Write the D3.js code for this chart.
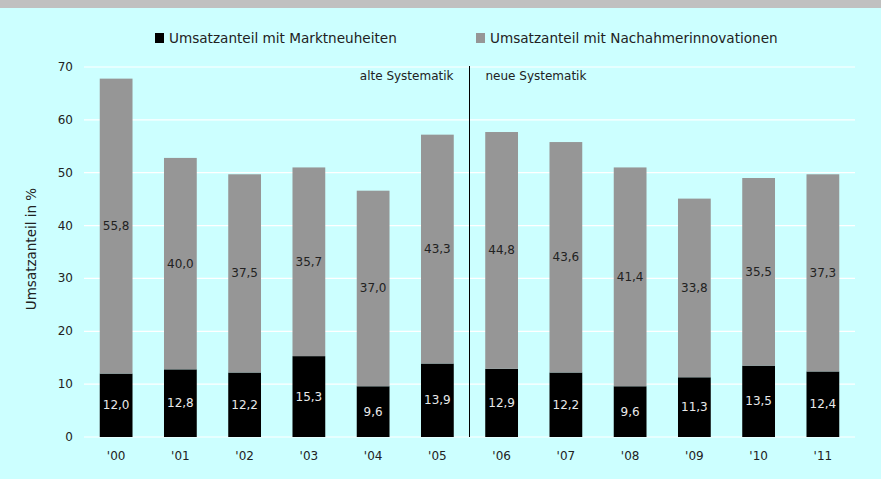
<!DOCTYPE html>
<html>
<head>
<meta charset="utf-8">
<script src="https://cdn.jsdelivr.net/npm/d3@7"></script>
<style>
  body { margin: 0; background: #ccffff; }
  svg { display: block; }
</style>
</head>
<body>
<script>
const width = 881;
const height = 479;

const years = ["'00", "'01", "'02", "'03", "'04", "'05", "'06", "'07", "'08", "'09", "'10", "'11"];
const marktneuheiten = [12.0, 12.8, 12.2, 15.3, 9.6, 13.9, 12.9, 12.2, 9.6, 11.3, 13.5, 12.4];
const nachahmer = [55.8, 40.0, 37.5, 35.7, 37.0, 43.3, 44.8, 43.6, 41.4, 33.8, 35.5, 37.3];
const yTicks = [0, 10, 20, 30, 40, 50, 60, 70];
const seriesNames = ['Umsatzanteil mit Marktneuheiten', 'Umsatzanteil mit Nachahmerinnovationen'];
const colors = ['#000000', '#969696'];

const margin = { left: 84, right: 26, top: 67, bottom: 42 };
const font = 'DejaVu Sans';

const svg = d3.select('body').append('svg').attr('width', width).attr('height', height);

svg.append('rect').attr('x', 0).attr('y', 0).attr('width', width).attr('height', height).style('fill', '#ccffff');
svg.append('rect').attr('x', 0).attr('y', 0).attr('width', width).attr('height', 8).style('fill', '#c0c0c0');

const x = d3.scaleBand().domain(years).range([margin.left, width - margin.right]).paddingInner(0.49).paddingOuter(0.245);
const y = d3.scaleLinear().domain([0, 70]).range([height - margin.bottom, margin.top]);

// gridlines
svg.selectAll('line.grid').data(yTicks).enter().append('line').classed('grid', true)
    .attr('x1', margin.left).attr('x2', width - margin.right)
    .attr('y1', d => y(d)).attr('y2', d => y(d))
    .style('stroke', '#ffffff').style('stroke-width', 1.2);

// y tick labels
svg.selectAll('text.ytick').data(yTicks).enter().append('text').classed('ytick', true)
    .attr('x', 73).attr('y', d => y(d) + 4)
    .attr('text-anchor', 'end')
    .style('font-family', font).style('font-size', '12px').style('fill', '#222')
    .text(d => d);

// x labels
svg.selectAll('text.xtick').data(years).enter().append('text').classed('xtick', true)
    .attr('x', d => x(d) + x.bandwidth() / 2).attr('y', 460)
    .attr('text-anchor', 'middle')
    .style('font-family', font).style('font-size', '12px').style('fill', '#222')
    .text(d => d);

// y axis title
svg.append('text')
    .attr('transform', `translate(36,249) rotate(-90)`)
    .attr('text-anchor', 'middle')
    .style('font-family', font).style('font-size', '13.5px').style('fill', '#222')
    .text('Umsatzanteil in %');

// stacked bars
const rows = years.map((yr, i) => ({ year: yr, m: marktneuheiten[i], n: nachahmer[i] }));

svg.selectAll('rect.m').data(rows).enter().append('rect').classed('m', true)
    .attr('x', d => x(d.year)).attr('width', x.bandwidth())
    .attr('y', d => y(d.m)).attr('height', d => y(0) - y(d.m))
    .style('fill', colors[0]);

svg.selectAll('rect.n').data(rows).enter().append('rect').classed('n', true)
    .attr('x', d => x(d.year)).attr('width', x.bandwidth())
    .attr('y', d => y(d.m + d.n)).attr('height', d => y(d.m) - y(d.m + d.n))
    .style('fill', colors[1]);

const fmt = v => v.toFixed(1).replace('.', ',');

svg.selectAll('text.mlab').data(rows).enter().append('text').classed('mlab', true)
    .attr('x', d => x(d.year) + x.bandwidth() / 2).attr('y', d => y(d.m / 2) + 4)
    .attr('text-anchor', 'middle')
    .style('font-family', font).style('font-size', '12px').style('fill', '#e8e8e8')
    .text(d => fmt(d.m));

svg.selectAll('text.nlab').data(rows).enter().append('text').classed('nlab', true)
    .attr('x', d => x(d.year) + x.bandwidth() / 2).attr('y', d => y(d.m + d.n / 2) + 4)
    .attr('text-anchor', 'middle')
    .style('font-family', font).style('font-size', '12px').style('fill', '#222')
    .text(d => fmt(d.n));

// divider between old and new methodology
const divX = (x("'05") + x.bandwidth() + x("'06")) / 2;
svg.append('line')
    .attr('x1', divX).attr('x2', divX).attr('y1', y(70) - 1).attr('y2', y(0))
    .style('stroke', '#000').style('stroke-width', 1);

svg.append('text').attr('x', divX - 16).attr('y', 80).attr('text-anchor', 'end')
    .style('font-family', font).style('font-size', '12px').style('fill', '#222')
    .text('alte Systematik');
svg.append('text').attr('x', divX + 16).attr('y', 80).attr('text-anchor', 'start')
    .style('font-family', font).style('font-size', '12px').style('fill', '#222')
    .text('neue Systematik');

// legend
const legendX = [155, 476];
const legend = svg.selectAll('g.legend').data(seriesNames).enter().append('g').classed('legend', true)
    .attr('transform', (d, i) => `translate(${legendX[i]},38)`);
legend.append('rect').attr('x', 0).attr('y', -5).attr('width', 9).attr('height', 10)
    .style('fill', (d, i) => colors[i]);
legend.append('text').attr('x', 14).attr('y', 5)
    .style('font-family', font).style('font-size', '13.6px').style('fill', '#222')
    .text(d => d);
</script>
</body>
</html>
